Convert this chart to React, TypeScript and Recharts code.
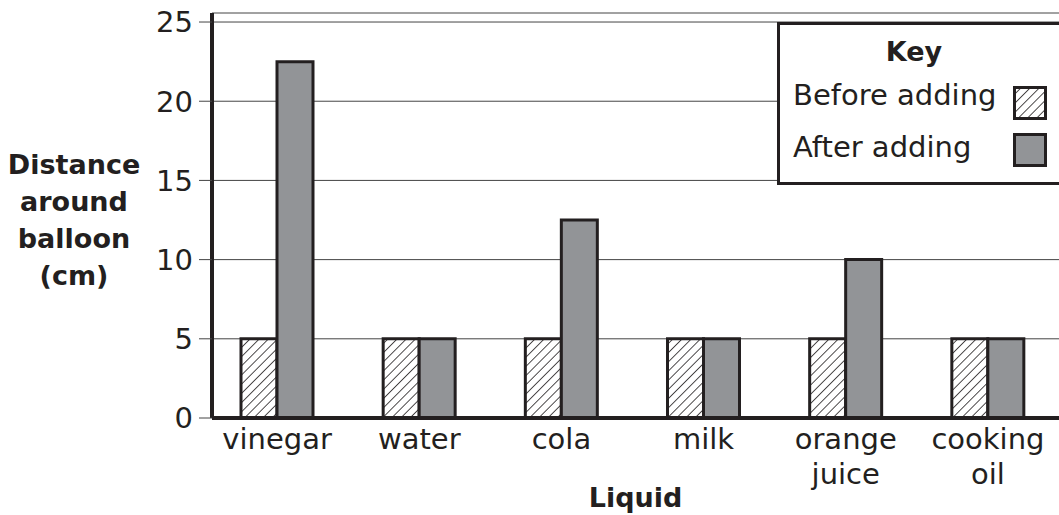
import { BarChart, Bar, XAxis, YAxis, CartesianGrid, Label } from 'recharts';

const liquids = ['vinegar', 'water', 'cola', 'milk', 'orange juice', 'cooking oil'];
const beforeAdding = [5, 5, 5, 5, 5, 5];
const afterAdding = [22.5, 5, 12.5, 5, 10, 5];
const yTicks = [0, 5, 10, 15, 20, 25];
const yLabelLines = ['Distance', 'around', 'balloon', '(cm)'];

const data = liquids.map((liquid, i) => ({ liquid, before: beforeAdding[i], after: afterAdding[i] }));

const FONT = '"DejaVu Sans", sans-serif';
const INK = '#231f20';

const LiquidTick = (props: any) => {
  const { x, y, payload } = props;
  const words = String(payload.value).split(' ');
  return (
    <text x={x} y={y} textAnchor="middle" fontFamily={FONT} fontSize={29} fill={INK}>
      {words.map((w: string, i: number) => (
        <tspan key={i} x={x} dy={i === 0 ? 23 : 35}>{w}</tspan>
      ))}
    </text>
  );
};

const YTitle = () => (
  <text x={74} y={174} textAnchor="middle" fontFamily={FONT} fontSize={27} fontWeight="bold" fill={INK}>
    {yLabelLines.map((l, i) => (
      <tspan key={i} x={74} dy={i === 0 ? 0 : 37}>{l}</tspan>
    ))}
  </text>
);

export default function App() {
  return (
    <div style={{ position: 'fixed', left: 0, top: 0, width: 1059, height: 515, background: '#fff' }}>
      <svg width={0} height={0} style={{ position: 'absolute' }}>
        <defs>
          <pattern id="hatch" patternUnits="userSpaceOnUse" width={6.5} height={6.5} patternTransform="rotate(45)">
            <line x1={0} y1={0} x2={0} y2={6.5} stroke={INK} strokeWidth={1.6} />
          </pattern>
        </defs>
      </svg>
      <BarChart
        width={1059}
        height={515}
        data={data}
        margin={{ top: 13, right: 0, left: 0, bottom: 0 }}
        barGap={0}
        barCategoryGap={35}
      >
        <CartesianGrid vertical={false} stroke="#444" strokeWidth={1} />
        <XAxis
          dataKey="liquid"
          height={97}
          padding={{ left: -6, right: 0 }}
          axisLine={{ stroke: INK, strokeWidth: 4 }}
          tickLine={false}
          tick={<LiquidTick />}
          interval={0}
        >
          <Label value="Liquid" position="insideBottom" offset={8} fontFamily={FONT} fontSize={27} fontWeight="bold" fill={INK} />
        </XAxis>
        <YAxis
          width={212}
          domain={[0, 25.57]}
          ticks={yTicks}
          allowDataOverflow
          axisLine={{ stroke: INK, strokeWidth: 4 }}
          tickLine={{ stroke: '#444', strokeWidth: 1 }}
          tickSize={13}
          tickMargin={6}
          tick={{ fontFamily: FONT, fontSize: 29, fill: INK }}
          label={<YTitle />}
        />
        <Bar dataKey="before" fill="url(#hatch)" stroke={INK} strokeWidth={3} isAnimationActive={false} />
        <Bar dataKey="after" fill="#929497" stroke={INK} strokeWidth={3} isAnimationActive={false} />
      </BarChart>
      <div
        style={{
          position: 'absolute', left: 777, top: 22, width: 290, height: 157,
          border: `3px solid ${INK}`, background: '#fff', fontFamily: FONT, color: INK, fontSize: 29,
        }}
      >
        <div style={{ position: 'absolute', left: 0, width: 268, top: 11, textAlign: 'center', fontWeight: 'bold', fontSize: 27 }}>Key</div>
        <div style={{ position: 'absolute', left: 13, top: 53, whiteSpace: 'nowrap' }}>Before adding</div>
        <svg style={{ position: 'absolute', left: 233, top: 61 }} width={36} height={36}>
          <rect x={1.5} y={1.5} width={31} height={31} fill="url(#hatch)" stroke={INK} strokeWidth={3} />
        </svg>
        <div style={{ position: 'absolute', left: 13, top: 105, whiteSpace: 'nowrap' }}>After adding</div>
        <svg style={{ position: 'absolute', left: 233, top: 108 }} width={36} height={36}>
          <rect x={1.5} y={1.5} width={31} height={31} fill="#929497" stroke={INK} strokeWidth={3} />
        </svg>
      </div>
    </div>
  );
}
